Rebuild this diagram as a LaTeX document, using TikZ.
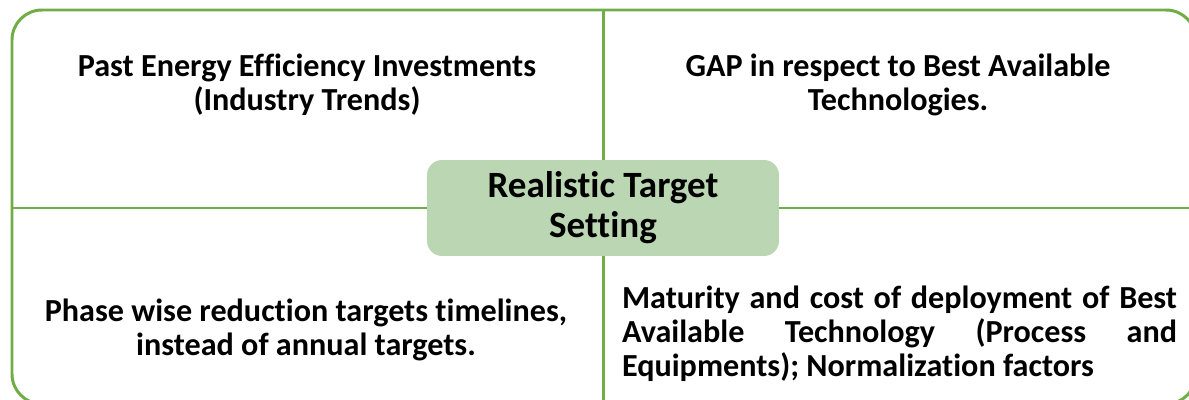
\documentclass[tikz,border=0pt]{standalone}
\usepackage{fontspec}
\setmainfont[Ligatures=NoCommon]{Carlito}
\usepackage{xcolor}
\definecolor{frameGreen}{RGB}{112,173,71}
\definecolor{boxGreen}{RGB}{187,214,178}

\begin{document}
\begin{tikzpicture}[x=0.02cm,y=-0.02cm,
  quadtext/.style={font=\bfseries\fontsize{18.3}{19.4}\selectfont,align=center,inner sep=0pt},
  centrebox/.style={fill=boxGreen,rounded corners=0.3cm,minimum width=7.04cm,minimum height=1.92cm,
    font=\bfseries\fontsize{21.1}{22.8}\selectfont,align=center,inner sep=0pt}]
\useasboundingbox (0,0) rectangle (1189,399);
\draw[frameGreen,line width=1.7pt,rounded corners=0.6cm] (12,10) rectangle (1196,404);
\draw[frameGreen,line width=1.7pt] (603,10) -- (603,404);
\draw[frameGreen,line width=1.7pt] (12,208) -- (1196,208);
\node[centrebox] (centre) at (603,208) {Realistic Target\\Setting};
\node[quadtext] (past) at (307,85) {Past Energy Efficiency Investments\\(Industry Trends)};
\node[quadtext] (gap) at (898,85) {GAP in respect to Best Available\\Technologies.};
\node[quadtext] (phase) at (306,330) {Phase wise reduction targets timelines,\\instead of annual targets.};
\node[quadtext,align=justify,text width=11.1cm] (maturity) at (899.5,334)
  {\hyphenpenalty=10000 Maturity and cost of deployment of Best\linebreak Available Technology (Process and\linebreak Equipments); Normalization factors};
\end{tikzpicture}
\end{document}
